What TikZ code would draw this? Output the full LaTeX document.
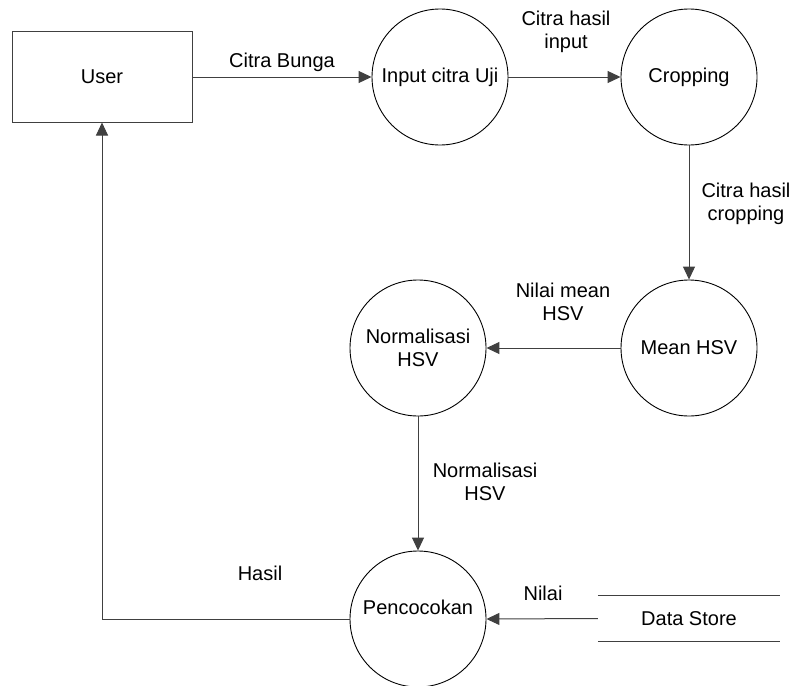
\documentclass[tikz,border=0pt]{standalone}
\usepackage{fontspec}
\setmainfont{Liberation Sans}
\usetikzlibrary{arrows.meta}
\begin{document}
\begin{tikzpicture}[x=1pt,y=-1pt,
  every node/.style={font=\fontsize{20}{23}\selectfont, align=center, inner sep=0pt},
  process/.style={circle, draw=black, line width=0.9pt, minimum size=136pt},
  entity/.style={rectangle, draw=black!75, line width=1pt, minimum width=180pt, minimum height=90pt},
  flow/.style={draw=black!75, line width=1pt, -{Triangle[length=13pt,width=12pt]}},
  flowlabel/.style={fill=none}
]
\useasboundingbox (0,0) rectangle (791,685);

% external entity and processes
\node[entity]  (user) at (102,77)  {User};
\node[process] (inp)  at (440,77)  {Input citra Uji};
\node[process] (crop) at (689,77)  {Cropping};
\node[process] (mean) at (689,348) {Mean HSV};
\node[process] (norm) at (418,348) {Normalisasi\\HSV};
\node[process] (pen)  at (418,619) {};
\node (pentext) at ([yshift=12pt]pen.center) {Pencocokan};

% data store: open-ended box drawn with two horizontal rules
\node[minimum width=182pt, minimum height=45pt] (ds) at (689,618.5) {Data Store};
\draw[black!75, line width=1pt] (ds.north west) -- (ds.north east);
\draw[black!75, line width=1pt] (ds.south west) -- (ds.south east);

% data flows
\draw[flow] (user.east) -- (inp.west);
\draw[flow] (inp.east) -- (crop.west);
\draw[flow] (crop.south) -- (mean.north);
\draw[flow] (mean.west) -- (norm.east);
\draw[flow] (norm.south) -- (pen.north);
\draw[flow] (ds.west) -- (pen.east);
\draw[flow] (pen.west) -| (user.south);

% flow labels
\node (l1) at (282,62)    {Citra Bunga};
\node (l2) at (566,31.5)  {Citra hasil\\input};
\node (l3) at (746,203.5) {Citra hasil\\cropping};
\node (l4) at (563,301.5) {Nilai mean\\HSV};
\node (l5) at (485,482)   {Normalisasi\\HSV};
\node (l6) at (260,573)   {Hasil};
\node (l7) at (543,593)   {Nilai};
\end{tikzpicture}
\end{document}
